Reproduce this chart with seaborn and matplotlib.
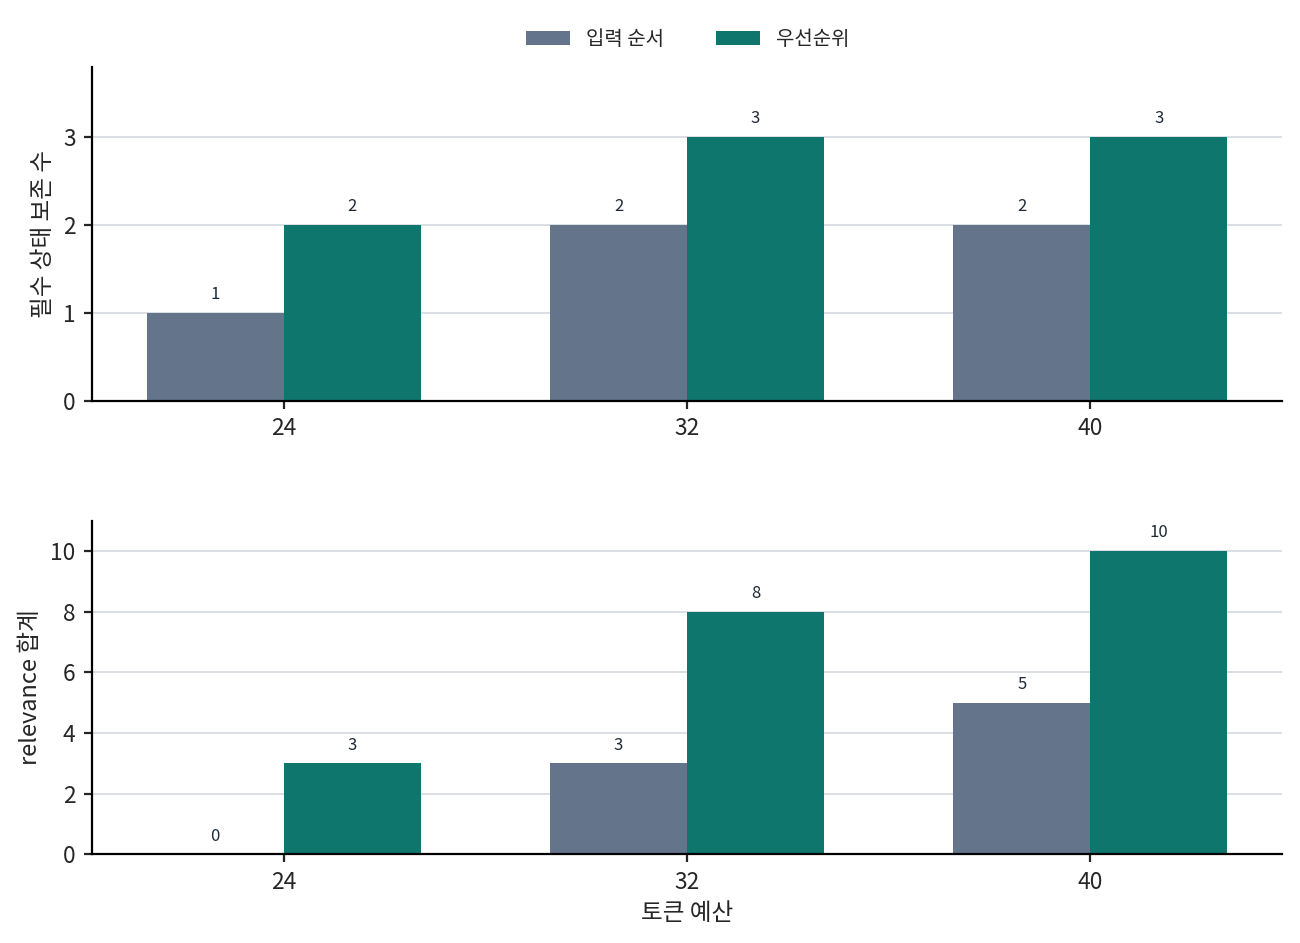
import pandas as pd
import numpy as np
import matplotlib.pyplot as plt
import seaborn as sns

# data
budgets = ["24", "32", "40"]
methods = ["입력 순서", "우선순위"]
kept_input = [1, 2, 2]
kept_priority = [2, 3, 3]
rel_input = [0, 3, 5]
rel_priority = [3, 8, 10]

colors = ["#64748b", "#0f766e"]

sns.set_theme(style="white")
plt.rcParams["font.family"] = ["Noto Sans CJK KR", "DejaVu Sans"]

def long_df(a, b):
    rows = []
    for i, bud in enumerate(budgets):
        rows.append({"budget": bud, "method": methods[0], "value": a[i]})
        rows.append({"budget": bud, "method": methods[1], "value": b[i]})
    return pd.DataFrame(rows)

df_top = long_df(kept_input, kept_priority)
df_bot = long_df(rel_input, rel_priority)

fig, axes = plt.subplots(2, 1, figsize=(6.5, 4.715), dpi=200)

for ax, df, ylab, ymax in [
    (axes[0], df_top, "필수 상태 보존 수", 3.8),
    (axes[1], df_bot, "relevance 합계", 11.0),
]:
    sns.barplot(data=df, x="budget", y="value", hue="method",
                palette=colors, width=0.68, saturation=1,
                edgecolor="none", linewidth=0, ax=ax, legend=(ax is axes[0]))
    for cont in ax.containers:
        ax.bar_label(cont, fmt="%d", padding=3.5, fontsize=6, color="#1f2937")
    ax.set_ylim(0, ymax)
    ax.set_xlim(-0.475, 2.475)
    ax.set_ylabel(ylab, fontsize=8.5, labelpad=3)
    ax.set_xlabel("")
    ax.yaxis.grid(True, color="#d4d8de", linewidth=0.6)
    ax.set_axisbelow(True)
    ax.tick_params(axis="both", labelsize=8.2, length=3, width=0.8,
                   bottom=True, left=True, pad=3)
    sns.despine(ax=ax)
    for s in ["left", "bottom"]:
        ax.spines[s].set_color("black")
        ax.spines[s].set_linewidth(0.8)

axes[0].set_yticks([0, 1, 2, 3])
axes[1].set_yticks([0, 2, 4, 6, 8, 10])
axes[1].set_xlabel("토큰 예산", fontsize=8.5, labelpad=3)

handles, labels = axes[0].get_legend_handles_labels()
axes[0].get_legend().remove()
fig.legend(handles, labels, loc="upper center", ncol=2, frameon=False,
           fontsize=7.2, bbox_to_anchor=(0.529, 0.988), handlelength=2.2,
           columnspacing=2.6)

fig.subplots_adjust(left=0.071, right=0.986, top=0.929, bottom=0.094, hspace=0.36)
fig.savefig("out.png", dpi=200)
